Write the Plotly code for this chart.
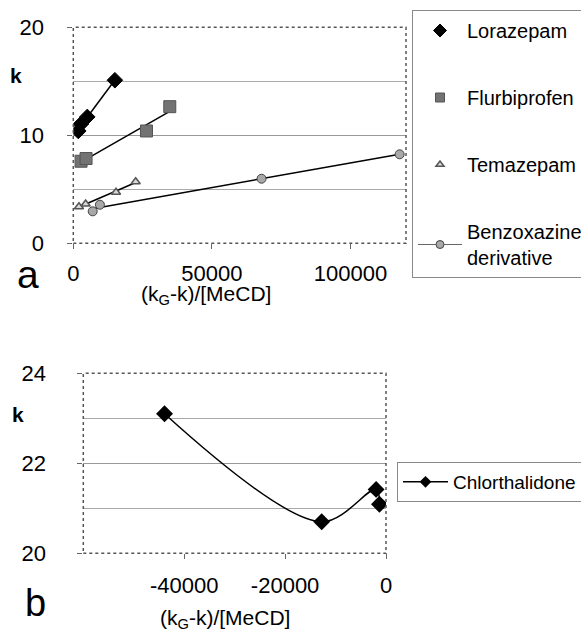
import numpy as np
import plotly.graph_objects as go

W, H = 581, 632

# ---- data panel a ----
lora_x = [1800, 2770, 5040, 15000]
lora_y = [10.4, 11.05, 11.7, 15.1]
flur_x = [2800, 4600, 26400, 34800]
flur_y = [7.6, 7.85, 10.4, 12.65]
tema_x = [2050, 4450, 15400, 22500]
tema_y = [3.39, 3.64, 4.72, 5.7]
benz_x = [7000, 9600, 67900, 117700]
benz_y = [2.96, 3.57, 5.98, 8.24]

# ---- data panel b ----
chlor_x = [-43900, -12750, -1960, -1300]
chlor_y = [23.1, 20.70, 21.42, 21.09]

xa_ticks = [0, 50000, 100000]
xa_text = ["0", "50000", "100000"]
ya_ticks = [0, 10, 20]
xb_ticks = [-40000, -20000, 0]
xb_text = ["-40000", "-20000", "0"]
yb_ticks = [20, 22, 24]

FONT = "Liberation Sans, Arial, sans-serif"

def px(x):
    return x / W

def py(y):
    return 1 - y / H

fig = go.Figure()

def fit(xs, ys):
    m, b = np.polyfit(xs, ys, 1)
    x0, x1 = min(xs), max(xs)
    return [x0, x1], [m * x0 + b, m * x1 + b]

series = [
    ("Lorazepam", lora_x, lora_y,
     dict(symbol="diamond", size=12, color="black", line=dict(color="black", width=1)),
     dict(symbol="diamond", size=10, color="black", line=dict(color="black", width=1)), "markers"),
    ("Flurbiprofen", flur_x, flur_y,
     dict(symbol="square", size=12, color="#737373", line=dict(color="#555555", width=1)),
     dict(symbol="square", size=9, color="#737373", line=dict(color="#555555", width=1)), "markers"),
    ("Temazepam", tema_x, tema_y,
     dict(symbol="triangle-up", size=8, color="#d8d8d8", line=dict(color="#555555", width=1.5)),
     dict(symbol="triangle-up", size=7, color="#d8d8d8", line=dict(color="#555555", width=1.5)), "markers"),
    ("Benzoxazine<br>derivative", benz_x, benz_y,
     dict(symbol="circle", size=9, color="#a8a8a8", line=dict(color="#444444", width=1)),
     dict(symbol="circle", size=8, color="#a8a8a8", line=dict(color="#444444", width=1)), "lines+markers"),
]
for i, (name, xs, ys, mk, lmk, lmode) in enumerate(series):
    grp = "g%d" % i
    fx, fy = fit(xs, ys)
    fig.add_trace(go.Scatter(x=fx, y=fy, mode="lines", line=dict(color="black", width=1.5),
                             showlegend=False, hoverinfo="skip", legendgroup=grp,
                             xaxis="x", yaxis="y"))
    fig.add_trace(go.Scatter(x=xs, y=ys, mode="markers", marker=mk, name=name,
                             showlegend=False, legendgroup=grp, xaxis="x", yaxis="y"))
    fig.add_trace(go.Scatter(x=[None], y=[None], mode=lmode, marker=lmk,
                             line=dict(color="#666666", width=1),
                             name=name, legendgroup=grp, legend="legend",
                             xaxis="x", yaxis="y"))

fig.add_trace(go.Scatter(x=chlor_x, y=chlor_y, mode="lines+markers",
                         line=dict(color="black", width=1.5, shape="spline", smoothing=1),
                         marker=dict(symbol="diamond", size=13, color="black"),
                         showlegend=False, legendgroup="c", xaxis="x2", yaxis="y2"))
fig.add_trace(go.Scatter(x=[None], y=[None], mode="lines+markers",
                         line=dict(color="black", width=1.5),
                         marker=dict(symbol="diamond", size=9, color="black"),
                         name="Chlorthalidone", legendgroup="c", legend="legend2",
                         xaxis="x2", yaxis="y2"))

axis_common = dict(showline=False, zeroline=False, ticks="outside", ticklen=5,
                   tickcolor="#666666", tickfont=dict(family=FONT, size=22, color="black"))

fig.update_layout(
    width=W, height=H,
    margin=dict(l=0, r=0, t=0, b=0, autoexpand=False),
    paper_bgcolor="white", plot_bgcolor="white",
    font=dict(family=FONT, color="black"),
    xaxis=dict(domain=[px(73.3), px(406)], range=[0, 120000], tickvals=xa_ticks, ticktext=xa_text,
               showgrid=False, anchor="y", ticklabelstandoff=5, automargin=False, **axis_common),
    yaxis=dict(domain=[py(243.3), py(27.3)], range=[0, 20], tickvals=ya_ticks,
               showgrid=True, gridcolor="#999999", gridwidth=1,
               minor=dict(dtick=5, showgrid=True, gridcolor="#aaaaaa", ticks=""),
               anchor="x", ticklabelstandoff=19, automargin=False, **axis_common),
    xaxis2=dict(domain=[px(83.3), px(386)], range=[-60000, 0], tickvals=xb_ticks, ticktext=xb_text,
                showgrid=False, anchor="y2", ticklabelstandoff=7, automargin=False, **axis_common),
    yaxis2=dict(domain=[py(553.3), py(373.3)], range=[20, 24], tickvals=yb_ticks,
                showgrid=True, gridcolor="#999999", gridwidth=1,
                minor=dict(dtick=1, showgrid=True, gridcolor="#aaaaaa", ticks=""),
                anchor="x2", ticklabelstandoff=27, automargin=False, **axis_common),
    legend=dict(x=px(412), y=py(10), xanchor="left", yanchor="top",
                bordercolor="#888888", borderwidth=1, bgcolor="white",
                font=dict(family=FONT, size=20, color="black"),
                tracegroupgap=38, itemwidth=44),
    legend2=dict(x=px(397), y=py(482), xanchor="left", yanchor="middle",
                 bordercolor="#888888", borderwidth=1, bgcolor="white",
                 font=dict(family=FONT, size=19, color="black"), itemwidth=45),
    showlegend=True,
)

for xr, yr in (("x", "y"), ("x2", "y2")):
    fig.add_shape(type="rect", xref=xr + " domain", yref=yr + " domain", x0=0, x1=1, y0=0, y1=1,
                  line=dict(color="#555555", width=1.5, dash="dot"), layer="above")

def ann(text, x, y, size, bold=False):
    fig.add_annotation(text=("<b>%s</b>" % text) if bold else text, x=px(x), y=py(y),
                       xref="paper", yref="paper", showarrow=False,
                       font=dict(family=FONT, size=size, color="black"),
                       xanchor="center", yanchor="middle")

ann("k", 16, 76, 21, bold=True)
ann("k", 18, 414, 21, bold=True)
ann("(k<sub>G</sub>-k)/[MeCD]", 206, 295, 21)
ann("(k<sub>G</sub>-k)/[MeCD]", 225, 619, 21)
ann("a", 28, 274, 39)
ann("b", 35, 603, 38)

fig.write_html("out.html")
